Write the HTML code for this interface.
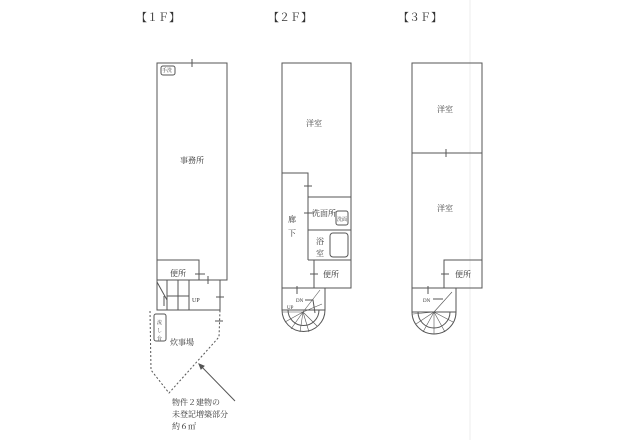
<!DOCTYPE html><html><head><meta charset="utf-8"><style>body{margin:0;background:#fff}svg{display:block}text{font-family:"Liberation Serif","Noto Serif CJK SC",serif;fill:#333}</style></head><body>
<svg width="640" height="440" viewBox="0 0 640 440" stroke="#555" fill="none" stroke-width="1">
<line x1="470" y1="0" x2="470" y2="440" stroke="#eee"/>
<g stroke="none" font-size="11"><text x="136" y="21">【１Ｆ】</text><text x="268" y="21">【２Ｆ】</text><text x="398" y="21">【３Ｆ】</text></g>
<!-- 1F -->
<rect x="157" y="63" width="70" height="217"/>
<rect x="161" y="66" width="14" height="9" rx="2"/>
<line x1="192" y1="59" x2="192" y2="67"/>
<polyline points="157,260 199,260 199,280"/>
<line x1="195" y1="274" x2="205" y2="274"/>
<polyline points="157,280 157,310 220,310 220,280"/>
<line x1="167" y1="296" x2="189" y2="296"/><line x1="167" y1="280" x2="167" y2="310"/><line x1="178" y1="280" x2="178" y2="310"/><line x1="189" y1="280" x2="189" y2="310"/>
<line x1="157" y1="282" x2="167" y2="300"/><line x1="164" y1="296" x2="164" y2="306"/>
<line x1="208" y1="276" x2="208" y2="284"/><line x1="216" y1="297" x2="224" y2="297"/>
<polyline points="150,311 151,370 169,393 219,337 220,310" stroke-dasharray="2,2"/>
<line x1="215" y1="321" x2="223" y2="321"/>
<rect x="154" y="314" width="12" height="27" rx="2"/>
<line x1="199" y1="364" x2="235" y2="401"/><polygon points="199,364 204,366 201,369" fill="#555"/>
<g stroke="none" font-size="8"><text x="180" y="163">事務所</text><text x="170" y="276">便所</text><text x="192" y="302" font-size="6">UP</text><text x="170" y="345">炊事場</text>
<text x="172" y="405">物件２建物の</text><text x="172" y="417">未登記増築部分</text><text x="172" y="429">約６㎡</text><text x="162" y="72" font-size="5">手洗</text><text x="157" y="324" font-size="5">流</text><text x="157" y="332" font-size="5">し</text><text x="157" y="340" font-size="5">台</text></g>
<!-- 2F -->
<rect x="282" y="63" width="69" height="225"/>
<polyline points="282,173 308,173 308,197 351,197"/>
<line x1="308" y1="197" x2="308" y2="260"/>
<line x1="308" y1="230" x2="351" y2="230"/>
<polyline points="308,260 351,260"/><line x1="314" y1="260" x2="314" y2="288"/>
<rect x="336" y="211" width="12" height="14" rx="2"/><rect x="330" y="233" width="18" height="24" rx="3"/>
<line x1="304" y1="186" x2="312" y2="186"/><line x1="304" y1="213" x2="314" y2="213"/><line x1="310" y1="274" x2="318" y2="274"/>
<polyline points="282,288 282,310 325,310 325,288"/>
<path d="M282,310 A21.5,21.5 0 0 0 325,310"/>
<path d="M288,310 A15.5,15.5 0 0 0 319,310"/>
<g stroke-width="0.6"><line x1="303" y1="312" x2="282" y2="312"/><line x1="303" y1="312" x2="285" y2="322"/><line x1="303" y1="312" x2="291" y2="329"/><line x1="303" y1="312" x2="300" y2="332"/><line x1="303" y1="312" x2="309" y2="332"/><line x1="303" y1="312" x2="317" y2="326"/><line x1="303" y1="312" x2="322" y2="304"/><line x1="303" y1="312" x2="320" y2="290"/></g>
<line x1="297" y1="286" x2="297" y2="294"/><polyline points="305,300 313,300 315,313"/>
<g stroke="none" font-size="8"><text x="306" y="126">洋室</text><text x="288" y="222">廊</text><text x="288" y="236">下</text><text x="312" y="216">洗面所</text><text x="316" y="244">浴</text><text x="316" y="256">室</text><text x="323" y="277">便所</text><text x="296" y="302" font-size="5">DN</text><text x="287" y="309" font-size="5">UP</text><text x="337" y="221" font-size="5">洗面</text></g>
<!-- 3F -->
<rect x="412" y="63" width="70" height="225"/>
<line x1="412" y1="153" x2="482" y2="153"/><line x1="446" y1="149" x2="446" y2="157"/>
<polyline points="444,288 444,260 482,260"/><line x1="441" y1="274" x2="449" y2="274"/>
<polyline points="412,288 412,312 456,312 456,288"/>
<path d="M412,312 A22,22 0 0 0 456,312"/><path d="M418,312 A16,16 0 0 0 450,312"/>
<g stroke-width="0.6"><line x1="434" y1="312" x2="413" y2="314"/><line x1="434" y1="312" x2="416" y2="324"/><line x1="434" y1="312" x2="423" y2="332"/><line x1="434" y1="312" x2="434" y2="334"/><line x1="434" y1="312" x2="445" y2="332"/><line x1="434" y1="312" x2="453" y2="322"/><line x1="434" y1="312" x2="452" y2="292"/></g>
<line x1="428" y1="286" x2="428" y2="294"/><line x1="433" y1="299" x2="443" y2="299"/>
<g stroke="none" font-size="8"><text x="437" y="112">洋室</text><text x="437" y="211">洋室</text><text x="455" y="277">便所</text><text x="423" y="302" font-size="5">DN</text></g>
</svg></body></html>
